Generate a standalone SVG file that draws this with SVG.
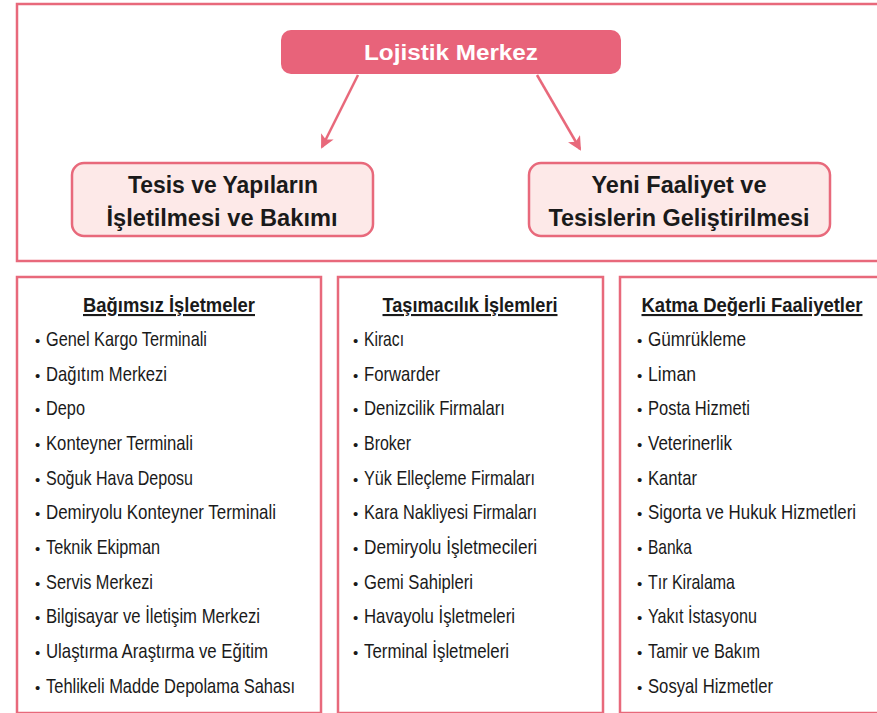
<svg xmlns="http://www.w3.org/2000/svg" width="877" height="713" viewBox="0 0 877 713">
<style>
.frame{fill:#fff;stroke:#e8697b;stroke-width:2.5}
.node{fill:#fde9e8;stroke:#e8697b;stroke-width:2.5}
.main{fill:#e8637a}
.nt{font-family:"Liberation Sans",Arial,sans-serif;font-weight:bold;font-size:23px;fill:#1a1a1a;text-anchor:middle}
.mt{font-family:"Liberation Sans",Arial,sans-serif;font-weight:bold;font-size:22px;fill:#fff;text-anchor:middle}
.hd{font-family:"Liberation Sans",Arial,sans-serif;font-weight:bold;font-size:21px;fill:#1a1a1a;text-anchor:middle;text-decoration:underline}
.it{font-family:"Liberation Sans",Arial,sans-serif;font-size:21px;fill:#1a1a1a}
.bl{font-family:"Liberation Sans",Arial,sans-serif;font-size:15px;fill:#1a1a1a}
.conn{stroke:#e8697b;stroke-width:2.5;fill:none}
</style>
<defs>
<marker id="ah" viewBox="0 0 14 14" refX="12" refY="7" markerWidth="14" markerHeight="14" markerUnits="userSpaceOnUse" orient="auto">
<path d="M0,0 L14,7 L0,14 L3.5,7 Z" fill="#e8697b"/>
</marker>
</defs>
<rect width="877" height="713" fill="#fff"/>
<g id="frame-top"><rect class="frame" x="17" y="4" width="870" height="257"/></g>
<g id="connectors">
<line class="conn" x1="358" y1="75" x2="322" y2="147" marker-end="url(#ah)"/>
<line class="conn" x1="537" y1="75" x2="580" y2="149" marker-end="url(#ah)"/>
</g>
<g id="lojistik-merkez">
<rect class="main" x="281" y="30" width="340" height="44" rx="10"/>
<text class="mt" x="451" y="60" textLength="174" lengthAdjust="spacingAndGlyphs">Lojistik Merkez</text>
</g>
<g id="tesis">
<rect class="node" x="72" y="163" width="301" height="73" rx="12"/>
<text class="nt" x="223" y="193" textLength="190" lengthAdjust="spacingAndGlyphs">Tesis ve Yapıların</text>
<text class="nt" x="222" y="226" textLength="231" lengthAdjust="spacingAndGlyphs">İşletilmesi ve Bakımı</text>
</g>
<g id="yeni">
<rect class="node" x="529" y="163" width="301" height="73" rx="12"/>
<text class="nt" x="679" y="193" textLength="175" lengthAdjust="spacingAndGlyphs">Yeni Faaliyet ve</text>
<text class="nt" x="679" y="226" textLength="261" lengthAdjust="spacingAndGlyphs">Tesislerin Geliştirilmesi</text>
</g>
<g id="bagimsiz">
<rect class="frame" x="17" y="277" width="304" height="436"/>
<text class="hd" x="169" y="312" textLength="172" lengthAdjust="spacingAndGlyphs">Bağımsız İşletmeler</text>
<g class="bl"><text x="35" y="346">•</text><text x="35" y="381">•</text><text x="35" y="415">•</text><text x="35" y="450">•</text><text x="35" y="485">•</text><text x="35" y="519">•</text><text x="35" y="554">•</text><text x="35" y="589">•</text><text x="35" y="623">•</text><text x="35" y="658">•</text><text x="35" y="693">•</text></g>
<text class="it" x="46" y="346" textLength="161" lengthAdjust="spacingAndGlyphs">Genel Kargo Terminali</text>
<text class="it" x="46" y="381" textLength="121" lengthAdjust="spacingAndGlyphs">Dağıtım Merkezi</text>
<text class="it" x="46" y="415" textLength="39" lengthAdjust="spacingAndGlyphs">Depo</text>
<text class="it" x="46" y="450" textLength="147" lengthAdjust="spacingAndGlyphs">Konteyner Terminali</text>
<text class="it" x="46" y="485" textLength="147" lengthAdjust="spacingAndGlyphs">Soğuk Hava Deposu</text>
<text class="it" x="46" y="519" textLength="230" lengthAdjust="spacingAndGlyphs">Demiryolu Konteyner Terminali</text>
<text class="it" x="46" y="554" textLength="114" lengthAdjust="spacingAndGlyphs">Teknik Ekipman</text>
<text class="it" x="46" y="589" textLength="107" lengthAdjust="spacingAndGlyphs">Servis Merkezi</text>
<text class="it" x="46" y="623" textLength="214" lengthAdjust="spacingAndGlyphs">Bilgisayar ve İletişim Merkezi</text>
<text class="it" x="46" y="658" textLength="222" lengthAdjust="spacingAndGlyphs">Ulaştırma Araştırma ve Eğitim</text>
<text class="it" x="46" y="693" textLength="249" lengthAdjust="spacingAndGlyphs">Tehlikeli Madde Depolama Sahası</text>
</g>
<g id="tasimacilik">
<rect class="frame" x="338" y="277" width="265" height="436"/>
<text class="hd" x="470" y="312" textLength="175" lengthAdjust="spacingAndGlyphs">Taşımacılık İşlemleri</text>
<g class="bl"><text x="353" y="346">•</text><text x="353" y="381">•</text><text x="353" y="415">•</text><text x="353" y="450">•</text><text x="353" y="485">•</text><text x="353" y="519">•</text><text x="353" y="554">•</text><text x="353" y="589">•</text><text x="353" y="623">•</text><text x="353" y="658">•</text></g>
<text class="it" x="364" y="346" textLength="40" lengthAdjust="spacingAndGlyphs">Kiracı</text>
<text class="it" x="364" y="381" textLength="76" lengthAdjust="spacingAndGlyphs">Forwarder</text>
<text class="it" x="364" y="415" textLength="141" lengthAdjust="spacingAndGlyphs">Denizcilik Firmaları</text>
<text class="it" x="364" y="450" textLength="47" lengthAdjust="spacingAndGlyphs">Broker</text>
<text class="it" x="364" y="485" textLength="171" lengthAdjust="spacingAndGlyphs">Yük Elleçleme Firmaları</text>
<text class="it" x="364" y="519" textLength="173" lengthAdjust="spacingAndGlyphs">Kara Nakliyesi Firmaları</text>
<text class="it" x="364" y="554" textLength="173" lengthAdjust="spacingAndGlyphs">Demiryolu İşletmecileri</text>
<text class="it" x="364" y="589" textLength="109" lengthAdjust="spacingAndGlyphs">Gemi Sahipleri</text>
<text class="it" x="364" y="623" textLength="151" lengthAdjust="spacingAndGlyphs">Havayolu İşletmeleri</text>
<text class="it" x="364" y="658" textLength="145" lengthAdjust="spacingAndGlyphs">Terminal İşletmeleri</text>
</g>
<g id="katma">
<rect class="frame" x="620" y="277" width="270" height="436"/>
<text class="hd" x="752" y="312" textLength="221" lengthAdjust="spacingAndGlyphs">Katma Değerli Faaliyetler</text>
<g class="bl"><text x="637" y="346">•</text><text x="637" y="381">•</text><text x="637" y="415">•</text><text x="637" y="450">•</text><text x="637" y="485">•</text><text x="637" y="519">•</text><text x="637" y="554">•</text><text x="637" y="589">•</text><text x="637" y="623">•</text><text x="637" y="658">•</text><text x="637" y="693">•</text></g>
<text class="it" x="648" y="346" textLength="98" lengthAdjust="spacingAndGlyphs">Gümrükleme</text>
<text class="it" x="648" y="381" textLength="48" lengthAdjust="spacingAndGlyphs">Liman</text>
<text class="it" x="648" y="415" textLength="102" lengthAdjust="spacingAndGlyphs">Posta Hizmeti</text>
<text class="it" x="648" y="450" textLength="84" lengthAdjust="spacingAndGlyphs">Veterinerlik</text>
<text class="it" x="648" y="485" textLength="49" lengthAdjust="spacingAndGlyphs">Kantar</text>
<text class="it" x="648" y="519" textLength="208" lengthAdjust="spacingAndGlyphs">Sigorta ve Hukuk Hizmetleri</text>
<text class="it" x="648" y="554" textLength="44" lengthAdjust="spacingAndGlyphs">Banka</text>
<text class="it" x="648" y="589" textLength="87" lengthAdjust="spacingAndGlyphs">Tır Kiralama</text>
<text class="it" x="648" y="623" textLength="109" lengthAdjust="spacingAndGlyphs">Yakıt İstasyonu</text>
<text class="it" x="648" y="658" textLength="112" lengthAdjust="spacingAndGlyphs">Tamir ve Bakım</text>
<text class="it" x="648" y="693" textLength="125" lengthAdjust="spacingAndGlyphs">Sosyal Hizmetler</text>
</g>
</svg>
